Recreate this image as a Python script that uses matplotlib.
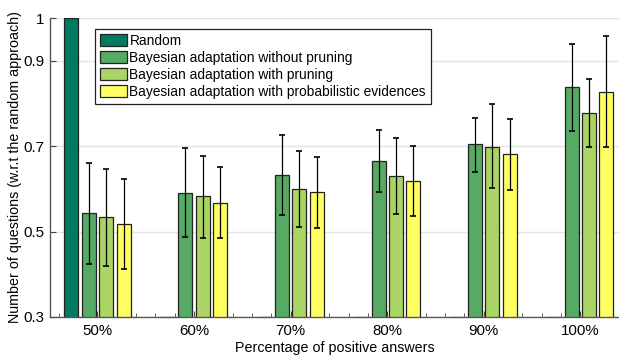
import numpy as np
import matplotlib
matplotlib.use('Agg')
import matplotlib.pyplot as plt
from matplotlib.ticker import MultipleLocator

plt.rcParams['font.family'] = ['Liberation Sans', 'DejaVu Sans']

groups = ['50%', '60%', '70%', '80%', '90%', '100%']
labels = ['Random',
          'Bayesian adaptation without pruning',
          'Bayesian adaptation with pruning',
          'Bayesian adaptation with probabilistic evidences']
colors = ['#007b60', '#56aa64', '#acd465', '#ffff62']

random_vals = [1.0, 0.3, 0.3, 0.3, 0.3, 0.3]
no_pruning = [0.543, 0.590, 0.633, 0.665, 0.704, 0.838]
pruning = [0.534, 0.583, 0.600, 0.630, 0.699, 0.777]
prob_ev = [0.518, 0.567, 0.592, 0.618, 0.681, 0.828]

# error bar ends (low, high)
no_pruning_lo = [0.425, 0.487, 0.539, 0.592, 0.639, 0.736]
no_pruning_hi = [0.661, 0.695, 0.726, 0.737, 0.767, 0.940]
pruning_lo = [0.420, 0.485, 0.511, 0.540, 0.601, 0.698]
pruning_hi = [0.647, 0.678, 0.689, 0.718, 0.798, 0.857]
prob_ev_lo = [0.413, 0.484, 0.508, 0.537, 0.598, 0.697]
prob_ev_hi = [0.622, 0.650, 0.675, 0.700, 0.764, 0.959]

fig = plt.figure(figsize=(6.19, 3.56), dpi=100)
ax = fig.add_axes([0.081, 0.11, 0.919, 0.839])

x = np.arange(len(groups))
w = 0.145
pitch = 0.18
offsets = [-1.5 * pitch, -0.5 * pitch, 0.5 * pitch, 1.5 * pitch]

series = [
    (random_vals, None, None),
    (no_pruning, no_pruning_lo, no_pruning_hi),
    (pruning, pruning_lo, pruning_hi),
    (prob_ev, prob_ev_lo, prob_ev_hi),
]

for i, (vals, lo, hi) in enumerate(series):
    vals = np.array(vals)
    ax.bar(x + offsets[i], vals, w, color=colors[i], edgecolor='#222222',
           linewidth=0.9, label=labels[i], zorder=2)
    if lo is not None:
        err = [vals - np.array(lo), np.array(hi) - vals]
        ax.errorbar(x + offsets[i], vals, yerr=err, fmt='none', ecolor='black',
                    elinewidth=0.9, capsize=2, capthick=1.2, zorder=3)

ax.set_xlim(-0.49, 5.40)
ax.set_ylim(0.3, 1.0)
ax.set_yticks([0.3, 0.5, 0.7, 0.9, 1.0])
ax.set_yticklabels(['0.3', '0.5', '0.7', '0.9', '1'])
ax.set_xticks(x)
ax.set_xticklabels(groups)
ax.xaxis.set_minor_locator(MultipleLocator(0.2))
ax.tick_params(axis='both', which='major', direction='in', length=4,
               labelsize=10.8, color='#444444', pad=5)
ax.tick_params(axis='y', which='major', pad=4)
ax.tick_params(axis='x', which='minor', direction='in', length=3, color='#444444')
ax.tick_params(axis='y', which='minor', left=False)
ax.yaxis.grid(True, color='#e3e3e3', linewidth=1, zorder=0)
ax.set_axisbelow(True)

for s in ['top', 'right']:
    ax.spines[s].set_visible(False)
for s in ['left', 'bottom']:
    ax.spines[s].set_color('#555555')
    ax.spines[s].set_linewidth(1.0)

ax.set_xlabel('Percentage of positive answers', fontsize=10.3, labelpad=2)
ax.set_ylabel('Number of questions (w.r.t the random approach)', fontsize=10.3)
ax.yaxis.set_label_coords(-0.05, 0.5)

leg = ax.legend(loc='upper left', bbox_to_anchor=(0.079, 0.963), fontsize=9.9,
                fancybox=False, framealpha=1, edgecolor='#222222',
                handlelength=2.0, handleheight=0.95, handletextpad=0.15,
                labelspacing=0.22, borderpad=0.35, borderaxespad=0)
leg.get_frame().set_linewidth(0.9)

fig.savefig('out.png', dpi=100)
